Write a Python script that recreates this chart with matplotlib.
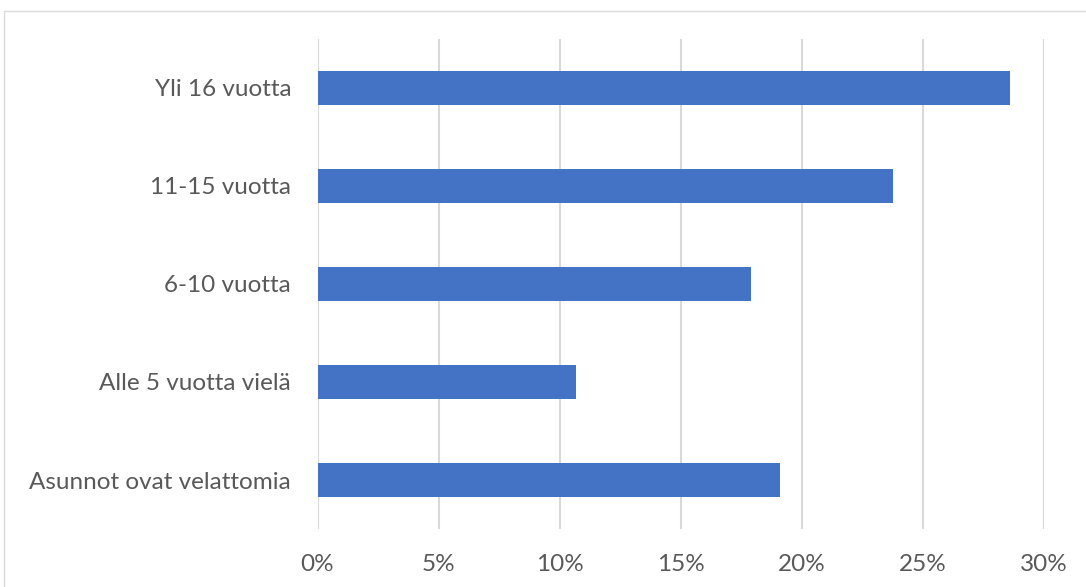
import matplotlib.pyplot as plt
from matplotlib.patches import Rectangle
from matplotlib.ticker import PercentFormatter

# Kategoriat alhaalta ylös
categories = ["Asunnot ovat velattomia", "Alle 5 vuotta vielä", "6-10 vuotta",
              "11-15 vuotta", "Yli 16 vuotta"]
values = [19.1, 10.7, 17.9, 23.8, 28.6]
ticks = [0, 5, 10, 15, 20, 25, 30]

plt.rcParams['font.family'] = ['Lato', 'DejaVu Sans']

fig = plt.figure(figsize=(10.86, 5.87), dpi=100)
ax = fig.add_axes([0.2924, 0.0988, 0.6685, 0.8348])

ax.barh(range(len(categories)), values, height=0.35, color="#4472C4", zorder=3)

ax.set_xlim(0, 30)
ax.set_ylim(-0.5, len(categories) - 0.5)
ax.set_xticks(ticks)
ax.xaxis.set_major_formatter(PercentFormatter(decimals=0))
ax.set_yticks(range(len(categories)))
ax.set_yticklabels(categories)

ax.grid(axis="x", color="#D9D9D9", linewidth=1.5, zorder=0)
for s in ax.spines.values():
    s.set_visible(False)
ax.tick_params(axis="both", length=0, labelsize=17.5, labelcolor="#595959")
ax.tick_params(axis="x", pad=18)
ax.tick_params(axis="y", pad=19)

# kaavion reunus
fig.patches.append(Rectangle((3.5 / 1086, -0.1), 1.2, 1 - 10.5 / 587 + 0.1,
                             transform=fig.transFigure, fill=False,
                             edgecolor="#D9D9D9", linewidth=1))

fig.savefig("out.png", dpi=100)
